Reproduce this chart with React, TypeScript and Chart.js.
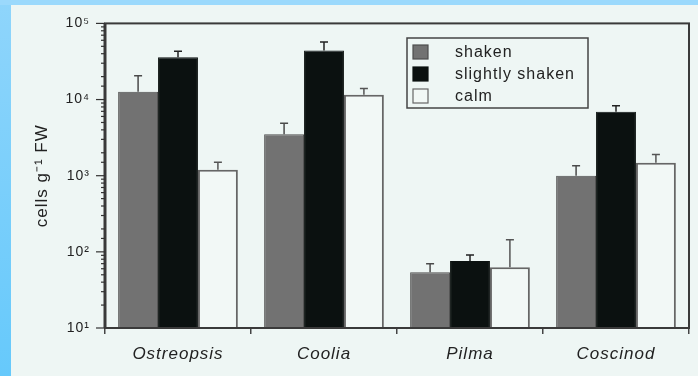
import React, { useEffect, useRef } from "react";
import { Chart, registerables } from "chart.js";

Chart.register(...registerables);

const categories = ["Ostreopsis", "Coolia", "Pilma", "Coscinod"];
const seriesNames = ["shaken", "slightly shaken", "calm"];
const shaken = [12700, 3500, 54, 1000];
const slightlyShaken = [36000, 44000, 76, 6900];
const calm = [1200, 11600, 63, 1480];
const shakenErrTop = [20500, 4900, 70, 1350];
const slightlyErrTop = [43000, 57000, 91, 8300];
const calmErrTop = [1500, 14000, 144, 1900];
const yTickValues = [10, 100, 1000, 10000, 100000];
const yTickLabels = ["10¹", "10²", "10³", "10⁴", "10⁵"];
const yTitle = "cells g⁻¹ FW";

const fills = ["#727272", "#0b1110", "#f2f8f6"];
const borders = ["#4e4e4e", "#0b1110", "#666666"];
const errColors = ["#4a4a4a", "#222222", "#555555"];
const errTops = [shakenErrTop, slightlyErrTop, calmErrTop];

const decorPlugin = {
  id: "decor",
  beforeDraw(chart: any) {
    const ctx = chart.ctx;
    ctx.save();
    ctx.fillStyle = "#eef6f4";
    ctx.fillRect(0, 0, chart.width, chart.height);
    const g = ctx.createLinearGradient(0, 0, 0, chart.height);
    g.addColorStop(0, "#8fd5fb");
    g.addColorStop(1, "#66c9fb");
    ctx.fillStyle = g;
    ctx.fillRect(0, 0, 11, chart.height);
    ctx.fillStyle = "#9bd9fc";
    ctx.fillRect(0, 0, chart.width, 5);
    ctx.restore();
    (ctx as any).letterSpacing = "1px";
  },
  afterDatasetsDraw(chart: any) {
    const ctx = chart.ctx;
    const y = chart.scales.y;
    ctx.save();
    // error bars
    for (let d = 0; d < 3; d++) {
      const meta = chart.getDatasetMeta(d);
      meta.data.forEach((el: any, j: number) => {
        const top = y.getPixelForValue(errTops[d][j]);
        ctx.strokeStyle = errColors[d];
        ctx.lineWidth = 1.5;
        ctx.beginPath();
        ctx.moveTo(el.x, el.y);
        ctx.lineTo(el.x, top);
        ctx.moveTo(el.x - 4, top);
        ctx.lineTo(el.x + 4, top);
        ctx.stroke();
      });
    }
    // frame
    const a = chart.chartArea;
    ctx.strokeStyle = "#3a3a3a";
    ctx.lineWidth = 2;
    ctx.strokeRect(a.left, a.top, a.right - a.left, a.bottom - a.top);
    ctx.lineWidth = 3;
    ctx.beginPath();
    ctx.moveTo(a.left, a.top);
    ctx.lineTo(a.left, a.bottom);
    ctx.stroke();
    // y ticks (major longer, minor shorter)
    ctx.lineWidth = 1.2;
    ctx.strokeStyle = "#333";
    y.ticks.forEach((t: any) => {
      const p = y.getPixelForValue(t.value);
      const major = yTickValues.indexOf(t.value) >= 0;
      ctx.beginPath();
      ctx.moveTo(a.left - (major ? 9 : 4), p);
      ctx.lineTo(a.left, p);
      ctx.stroke();
    });
    // legend
    const lx = 407, ly = 38, lw = 181, lh = 70;
    ctx.fillStyle = "#eef6f4";
    ctx.fillRect(lx, ly, lw, lh);
    ctx.strokeStyle = "#444";
    ctx.lineWidth = 1.5;
    ctx.strokeRect(lx, ly, lw, lh);
    ctx.font = "16px Arial, 'Liberation Sans', sans-serif";
    ctx.textBaseline = "middle";
    seriesNames.forEach((name, i) => {
      const cy = 52 + i * 22;
      ctx.fillStyle = fills[i];
      ctx.fillRect(413, cy - 7, 15, 14);
      ctx.strokeStyle = borders[i];
      ctx.lineWidth = 1.2;
      ctx.strokeRect(413, cy - 7, 15, 14);
      ctx.fillStyle = "#222";
      ctx.fillText(name, 455, cy + 1);
    });
    ctx.restore();
  },
};

export default function App() {
  const ref = useRef<HTMLCanvasElement>(null);
  useEffect(() => {
    if (!ref.current) return;
    const chart = new Chart(ref.current, {
      type: "bar",
      data: {
        labels: categories,
        datasets: [shaken, slightlyShaken, calm].map((vals, i) => ({
          label: seriesNames[i],
          data: vals,
          backgroundColor: fills[i],
          borderColor: borders[i],
          borderWidth: i === 2 ? 2 : 1,
          barPercentage: 1,
          categoryPercentage: 0.82,
        })),
      },
      options: {
        responsive: false,
        animation: false,
        layout: { padding: { top: 21, right: 9, left: 0, bottom: 0 } },
        plugins: { legend: { display: false }, tooltip: { enabled: false } },
        scales: {
          x: {
            afterFit: (s: any) => {
              s.height = 48;
            },
            grid: {
              offset: true,
              drawOnChartArea: false,
              tickLength: 6,
              tickColor: "#444",
              lineWidth: 1.5,
            },
            border: { display: false },
            ticks: {
              color: "#222",
              padding: 10,
              font: { family: "Arial, 'Liberation Sans', sans-serif", size: 17, style: "italic" },
            },
          },
          y: {
            type: "logarithmic",
            min: 10,
            max: 100000,
            afterFit: (s: any) => {
              s.width = 105;
            },
            grid: { display: true, drawOnChartArea: false, drawTicks: false },
            border: { display: false },
            ticks: {
              autoSkip: false,
              padding: 15,
              color: "#222",
              font: { family: "Arial, 'Liberation Sans', sans-serif", size: 14 },
              callback: (v: any) => {
                const k = yTickValues.indexOf(Number(v));
                return k >= 0 ? yTickLabels[k] : "";
              },
            },
            title: {
              display: true,
              text: yTitle,
              color: "#222",
              padding: { top: 32, bottom: 0 },
              font: { family: "Arial, 'Liberation Sans', sans-serif", size: 17 },
            },
          },
        },
      },
      plugins: [decorPlugin],
    });
    return () => chart.destroy();
  }, []);
  return (
    <div style={{ position: "fixed", left: 0, top: 0, width: 698, height: 376 }}>
      <canvas ref={ref} width={698} height={376} style={{ display: "block" }} />
    </div>
  );
}
